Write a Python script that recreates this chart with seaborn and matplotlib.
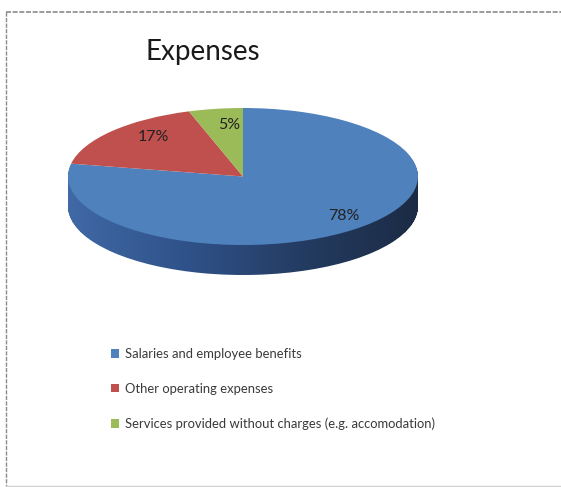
import numpy as np
import matplotlib
matplotlib.use("Agg")
import matplotlib.pyplot as plt
import seaborn as sns
from matplotlib.colors import LinearSegmentedColormap
from matplotlib.lines import Line2D
from matplotlib.path import Path

# ---- data ----
categories = ["Salaries and employee benefits",
              "Other operating expenses",
              "Services provided without charges (e.g. accomodation)"]
shares = [78, 17, 5]
pct_labels = ["78%", "17%", "5%"]
title = "Expenses"

sns.set_theme(style="white")
plt.rcParams["font.family"] = ["Lato", "DejaVu Sans"]

W, H = 561, 487
fig = plt.figure(figsize=(W / 100, H / 100), dpi=100)
ax = fig.add_axes([0, 0, 1, 1])

A, B = 175.0, 68.5          # ellipse semi-axes in pixels
k = A / B
cx, cy = 243.0, 176.5       # ellipse centre in pixels
depth = 30


def Y(py):
    return (H - py) * k


top_colors = ["#4F81BD", "#C0504D", "#9BBB59"]
side_colors = ["#2E4D78", "#8B3634", "#6F8A3C"]
side_cmap = LinearSegmentedColormap.from_list(
    "side", ["#4069A6", "#30528A", "#243C62", "#1B2B44"], N=1024)
grad = np.linspace(0, 1, 1024).reshape(1, -1)

# side (extruded) layers of the pie, union of the first slice used as clip
side_paths = []
for d in range(depth, 0, -1):
    wedges, _ = ax.pie(shares, colors=side_colors, startangle=90,
                       counterclock=False, radius=A, center=(cx, Y(cy + d)),
                       frame=True, wedgeprops=dict(linewidth=0))
    for w in wedges:
        w.set_visible(False)
    side_paths.append(wedges[0].get_patch_transform().transform_path(wedges[0].get_path()))
side_clip = Path.make_compound_path(*side_paths)

im = ax.imshow(grad, extent=(cx - A, cx + A, Y(cy + B + depth + 2), Y(cy - B - 2)),
               cmap=side_cmap, aspect="auto", zorder=1, interpolation="bilinear")
im.set_clip_path(side_clip, ax.transData)

top_wedges, _ = ax.pie(shares, colors=top_colors, startangle=90,
                       counterclock=False, radius=A, center=(cx, Y(cy)),
                       frame=True, wedgeprops=dict(linewidth=0))
for w in top_wedges:
    w.set_zorder(3)

label_pos = [(344, 216), (153, 137), (229, 125)]
for lab, (px, py) in zip(pct_labels, label_pos):
    ax.text(px, Y(py), lab, ha="center", va="center", fontsize=11.5,
            color="#222222", zorder=5)

ax.set_xlim(0, W)
ax.set_ylim(0, H * k)
ax.set_aspect("auto")
ax.axis("off")

# title
fig.text(203 / W, 1 - 52 / H, title, ha="center", va="center",
         fontsize=20, color="#1a1a1a")

# legend
leg = ax.legend(top_wedges, categories, loc="upper left",
                bbox_to_anchor=(111 / W, 1 - 348 / H),
                bbox_transform=fig.transFigure, frameon=False,
                fontsize=9.4, handlelength=0.6, handleheight=0.6,
                handletextpad=0.45, labelspacing=1.75, borderpad=0,
                borderaxespad=0)
for t in leg.get_texts():
    t.set_color("#3a3a3a")

# dashed outer frame
fig.add_artist(Line2D([6 / W, 1], [1 - 12 / H, 1 - 12 / H], transform=fig.transFigure,
                      color="#8a8a8a", lw=1.2, ls=(0, (3, 1))))
fig.add_artist(Line2D([6 / W, 6 / W], [1 - 12 / H, 1 - 486 / H], transform=fig.transFigure,
                      color="#8a8a8a", lw=1.0, ls=(0, (3, 1))))
fig.add_artist(Line2D([6 / W, 1], [1 - 486 / H, 1 - 486 / H], transform=fig.transFigure,
                      color="#d0d0d0", lw=1.0))

fig.savefig("out.png", dpi=100)
